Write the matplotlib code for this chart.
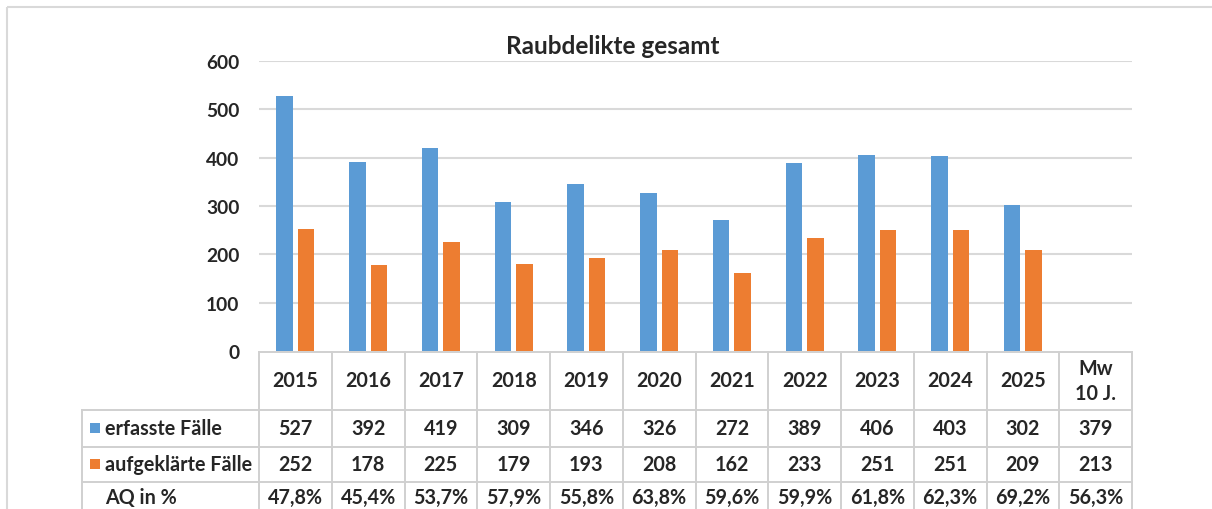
import matplotlib
matplotlib.use("Agg")
import matplotlib.pyplot as plt
from matplotlib import transforms
from matplotlib.patches import Rectangle

years = ["2015", "2016", "2017", "2018", "2019", "2020", "2021", "2022", "2023", "2024", "2025"]
col_labels = years + ["Mw\n10 J."]
erfasst = [527, 392, 419, 309, 346, 326, 272, 389, 406, 403, 302]
aufgeklaert = [252, 178, 225, 179, 193, 208, 162, 233, 251, 251, 209]
mw_erfasst = 379
mw_aufgeklaert = 213
aq = ["47,8%", "45,4%", "53,7%", "57,9%", "55,8%", "63,8%", "59,6%", "59,9%", "61,8%", "62,3%", "69,2%", "56,3%"]
row_names = ["erfasste Fälle", "aufgeklärte Fälle", "AQ in %"]
title = "Raubdelikte gesamt"
yticks = [0, 100, 200, 300, 400, 500, 600]

BLUE = "#5B9BD5"
ORANGE = "#ED7D31"
GRID = "#D9D9D9"
TXT = "#262626"
FONT = "Lato"

W, H = 1212, 510
fig = plt.figure(figsize=(W / 100, H / 100), dpi=100)

# overlay in pixel coordinates (y downwards)
tab = fig.add_axes([0, 0, 1, 1])
tab.set_xlim(0, W)
tab.set_ylim(H, 0)
tab.axis("off")

L, R = 259, 1132
Y0, Y600 = 352, 62
ax = fig.add_axes([L / W, (H - Y0) / H, (R - L) / W, (Y0 - Y600) / H])
ax.patch.set_alpha(0)
ncol = len(col_labels)
ax.set_xlim(-0.5, ncol - 0.5)
ax.set_ylim(0, 600)
for s in ax.spines.values():
    s.set_visible(False)
ax.set_yticks(yticks)
ax.set_yticklabels([str(v) for v in yticks], fontsize=13.8, fontweight="bold",
                   color=TXT, family=FONT)
ax.tick_params(axis="y", length=0, pad=14)
ax.set_xticks([])
for v in yticks[1:]:
    ax.axhline(v, color=GRID, lw=1.5, zorder=0)

x = list(range(len(years)))
bw = 0.227
off = 0.148
ax.bar([i - off for i in x], erfasst, width=bw, color=BLUE, zorder=2)
ax.bar([i + off for i in x], aufgeklaert, width=bw, color=ORANGE, zorder=2)

# outer frame
tab.add_patch(Rectangle((7, 8), W + 20, H + 20, fill=False, ec=GRID, lw=1.5))

# title
tab.text(613, 46, title, ha="center", va="center", fontsize=17.5,
         fontweight="bold", color=TXT, family=FONT)

# table
bt = transforms.blended_transform_factory(ax.transData, tab.transData)
TL = 82
rows_y = [352.5, 410.5, 447.5, 482.5, 520]
lc = "#D0D0D0"
lw = 1.4
tab.plot([L, R], [rows_y[0], rows_y[0]], color=lc, lw=lw, zorder=3)
for yy in rows_y[1:4]:
    tab.plot([TL, R], [yy, yy], color=lc, lw=lw, zorder=3)
for j in range(ncol + 1):
    tab.plot([j - 0.5, j - 0.5], [rows_y[0], H + 5], color=lc, lw=lw,
             transform=bt, zorder=3)
tab.plot([TL, TL], [rows_y[1], H + 5], color=lc, lw=lw, zorder=3)

fs = 14.2
hdr_c = (rows_y[0] + rows_y[1]) / 2
for j, lab in enumerate(col_labels):
    tab.text(j, hdr_c, lab, transform=bt, ha="center", va="center", fontsize=fs,
             fontweight="bold", color=TXT, family=FONT, linespacing=1.3)

vals_e = [str(v) for v in erfasst] + [str(mw_erfasst)]
vals_a = [str(v) for v in aufgeklaert] + [str(mw_aufgeklaert)]
row_centers = [429, 465, 498]
for vals, yc in zip([vals_e, vals_a, aq], row_centers):
    for j, v in enumerate(vals):
        tab.text(j, yc, v, transform=bt, ha="center", va="center", fontsize=fs,
                 fontweight="bold", color=TXT, family=FONT)

for name, yc, col in zip(row_names, row_centers, [BLUE, ORANGE, None]):
    if col:
        tab.add_patch(Rectangle((89.5, yc - 5.5), 10, 10, color=col, lw=0))
    tab.text(105, yc, name, ha="left", va="center", fontsize=fs,
             fontweight="bold", color=TXT, family=FONT)

fig.savefig("out.png", dpi=100)
